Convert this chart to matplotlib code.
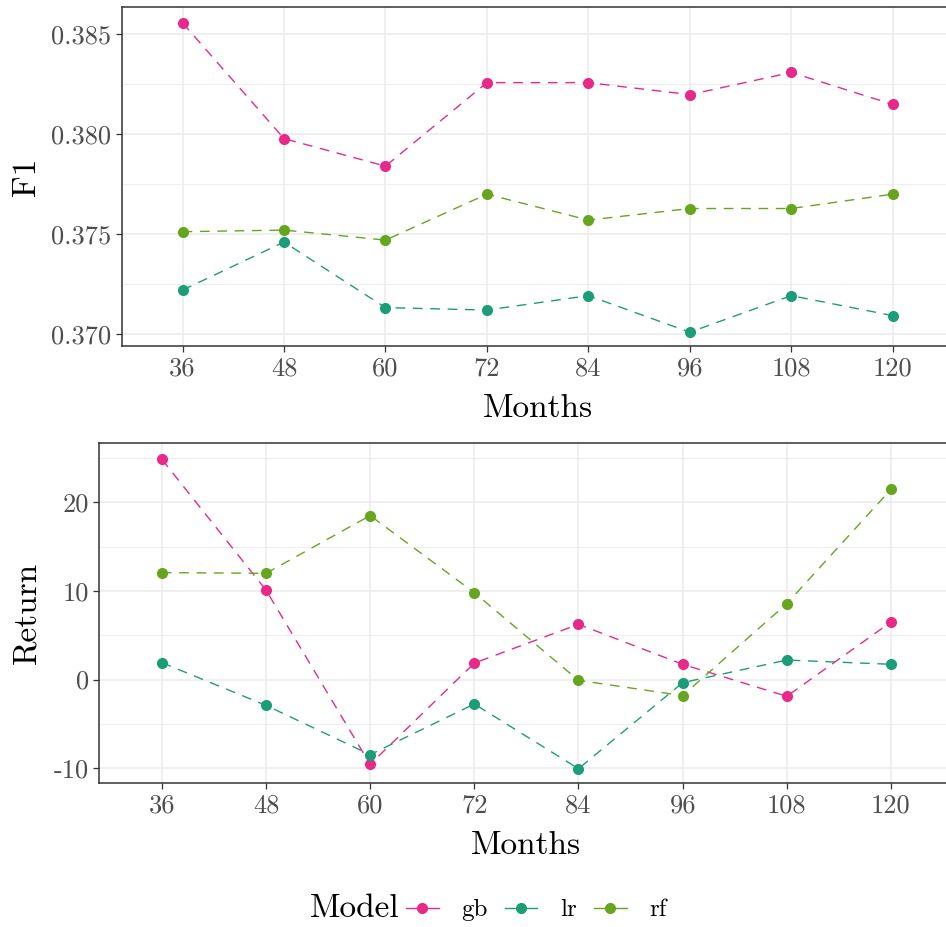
import matplotlib
matplotlib.use('Agg')
import matplotlib.pyplot as plt
from matplotlib.lines import Line2D
from matplotlib.ticker import FixedLocator
import numpy as np

plt.rcParams['font.family'] = ['cmr10', 'DejaVu Serif']
plt.rcParams['mathtext.fontset'] = 'cm'
plt.rcParams['axes.formatter.use_mathtext'] = True

months = ['36', '48', '60', '72', '84', '96', '108', '120']
models = ['gb', 'lr', 'rf']
colors = {'gb': '#E7298A', 'lr': '#1B9E77', 'rf': '#66A61E'}

f1_gb = [0.38557, 0.37978, 0.37840, 0.38258, 0.38258, 0.38198, 0.38309, 0.38149]
f1_lr = [0.37220, 0.37460, 0.37132, 0.37120, 0.37192, 0.37009, 0.37192, 0.37092]
f1_rf = [0.37512, 0.37520, 0.37470, 0.37700, 0.37570, 0.37628, 0.37628, 0.37700]

ret_gb = [24.85, 10.1, -9.55, 1.87, 6.24, 1.73, -1.88, 6.5]
ret_lr = [1.92, -2.9, -8.46, -2.75, -10.04, -0.34, 2.21, 1.73]
ret_rf = [12.07, 11.99, 18.5, 9.81, -0.08, -1.8, 8.57, 21.46]

f1_ticks = [0.370, 0.375, 0.380, 0.385]
f1_minor = [0.3725, 0.3775, 0.3825]
ret_ticks = [-10, 0, 10, 20]
ret_minor = [-5, 5, 15, 25]

TICK_COL = '#4D4D4D'
GRID_COL = '#EBEBEB'
BORDER_COL = '#333333'

W, H = 946, 927
fig = plt.figure(figsize=(W / 100, H / 100), dpi=100)
fig.patch.set_facecolor('white')

ax1 = fig.add_axes([121.7 / W, 1 - 346 / H, (953.6 - 121.7) / W, (346 - 7.3) / H])
ax2 = fig.add_axes([99.3 / W, 1 - 783.3 / H, (953.5 - 99.3) / W, (783.3 - 443.3) / H])


def style_axis(ax, series, yticks, ylabels, yminor, ylim, ylabel, ylab_x):
    x = np.arange(len(months))
    for name, vals in series:
        ax.plot(x, vals, color=colors[name], lw=1.0, dashes=(7, 5.5),
                marker='o', markersize=8, markeredgewidth=0, zorder=3)
    ax.set_xlim(-0.6, len(months) - 0.4)
    ax.set_ylim(*ylim)
    ax.set_xticks(x)
    ax.set_xticklabels(months)
    ax.set_yticks(yticks)
    ax.set_yticklabels(ylabels)
    ax.yaxis.set_minor_locator(FixedLocator(yminor))
    ax.grid(which='major', color=GRID_COL, lw=1.1, zorder=0)
    ax.grid(which='minor', axis='y', color=GRID_COL, lw=0.6, zorder=0)
    ax.set_axisbelow(True)
    ax.tick_params(which='major', length=4.5, width=0.9, color=BORDER_COL,
                   labelsize=19, labelcolor=TICK_COL, pad=3)
    ax.tick_params(which='minor', length=0)
    for sp in ax.spines.values():
        sp.set_color(BORDER_COL)
        sp.set_linewidth(1.1)
    ax.set_xlabel('Months', fontsize=24, labelpad=10)
    ax.set_ylabel(ylabel, fontsize=24)
    ax.yaxis.set_label_coords(ylab_x, 0.5)


style_axis(ax1, [('gb', f1_gb), ('lr', f1_lr), ('rf', f1_rf)],
           f1_ticks, ['0.370', '0.375', '0.380', '0.385'], f1_minor,
           (0.36940, 0.38635), 'F1', -0.097)
style_axis(ax2, [('gb', ret_gb), ('lr', ret_lr), ('rf', ret_rf)],
           ret_ticks, ['-10', '0', '10', '20'], ret_minor,
           (-11.69, 26.65), 'Return', -0.068)

# legend along the bottom
fig.text(310 / W, 1 - 908 / H, 'Model', fontsize=24, ha='left', va='center')
handles = [Line2D([0], [0], color=colors[m], lw=1.0, marker='o', markersize=8,
                  markeredgewidth=0) for m in models]
fig.legend(handles, models, loc='center left', bbox_to_anchor=(406 / W, 1 - 910 / H),
           ncol=3, frameon=False, fontsize=18, handlelength=1.3, handletextpad=0.9,
           columnspacing=0.7, borderpad=0, borderaxespad=0)

fig.savefig('out.png', dpi=100, facecolor='white')
